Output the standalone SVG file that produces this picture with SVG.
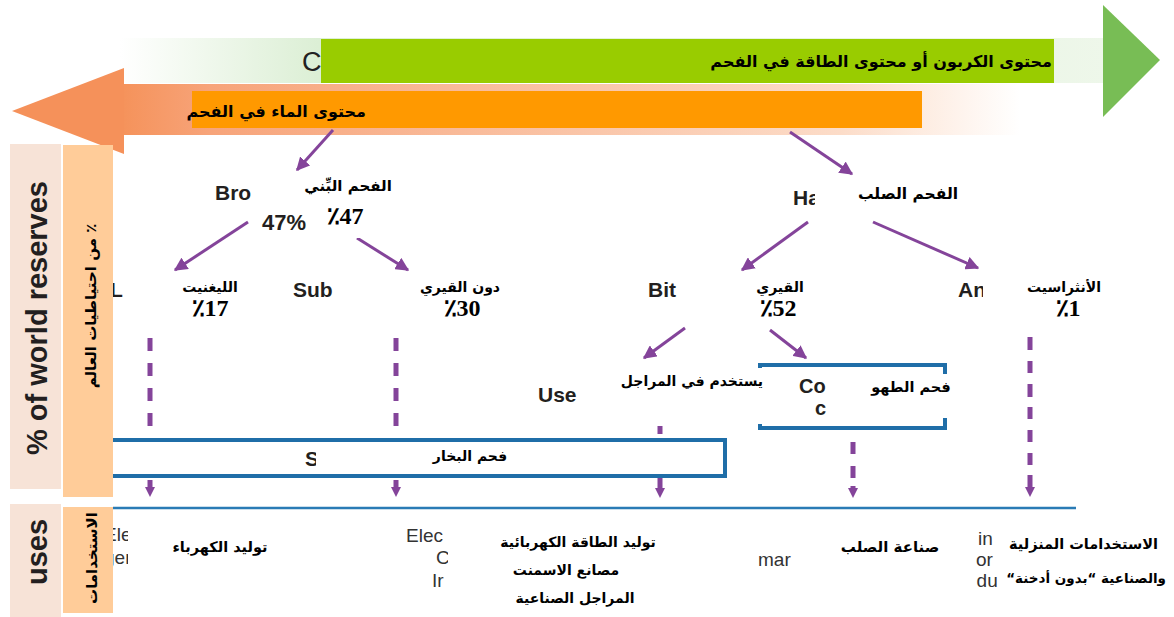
<svg xmlns="http://www.w3.org/2000/svg" width="1174" height="617" viewBox="0 0 1174 617">
<style>
.en{font-family:"Liberation Sans",Arial,sans-serif;font-weight:bold;fill:#231f20}
.enr{font-family:"Liberation Sans",Arial,sans-serif;fill:#333}
.ar{font-family:"DejaVu Sans","Liberation Serif",serif;font-weight:bold;fill:#000}
.num{font-family:"Liberation Serif","DejaVu Serif",serif;font-weight:bold;fill:#000}
.wh{fill:#fff}
.arrow{stroke:#84449a;stroke-width:3;fill:none;marker-end:url(#ah)}
.dash{stroke:#84449a;stroke-width:5;fill:none;marker-end:url(#dh)}
.blue{stroke:#1f6ea8;stroke-width:4;fill:none}
</style>
<defs>
<linearGradient id="gBand" x1="0" x2="1" y1="0" y2="0">
<stop offset="0" stop-color="#ffffff"/>
<stop offset="0.2" stop-color="#dcefd5"/>
<stop offset="1" stop-color="#eef7ea"/>
</linearGradient>
<linearGradient id="oBand" x1="0" x2="1" y1="0" y2="0">
<stop offset="0" stop-color="#f5925a"/>
<stop offset="0.1" stop-color="#f7a47a"/>
<stop offset="0.8" stop-color="#fcdcc8"/>
<stop offset="1" stop-color="#ffffff"/>
</linearGradient>
<marker id="ah" viewBox="0 0 10 10" refX="9" refY="5" markerWidth="4.5" markerHeight="4.5" orient="auto" markerUnits="strokeWidth">
<path d="M0,0 L10,5 L0,10 z" fill="#84449a"/>
</marker>
<marker id="dh" viewBox="0 0 10 10" refX="0" refY="5" markerWidth="10" markerHeight="10" orient="auto" markerUnits="userSpaceOnUse">
<path d="M0,0 L10,5 L0,10 z" fill="#84449a"/>
</marker>
</defs>
<rect width="1174" height="617" fill="#fff"/>

<g id="scale-arrows">
<rect x="120" y="38" width="990" height="45" fill="url(#gBand)"/>
<polygon points="1103,5 1160,60 1103,117" fill="#78bd55"/>
<rect x="120" y="84" width="900" height="51" fill="url(#oBand)"/>
<polygon points="124,68 12,111 124,154" fill="#f5915a"/>
<text x="302" y="71" font-family="Liberation Sans,Arial,sans-serif" font-size="27" fill="#222">C</text>
<rect x="321" y="39" width="733" height="44" fill="#99cc00"/>
<text class="ar" x="1052" y="67" font-size="16" text-anchor="end">محتوى الكربون أو محتوى الطاقة في الفحم</text>
<rect x="192" y="91" width="730" height="37" fill="#ff9900"/>
<text class="ar" x="366" y="117" font-size="16" text-anchor="end">محتوى الماء في الفحم</text>
</g>

<g id="connectors">
<path class="arrow" d="M333,130 L297,170"/>
<path class="arrow" d="M790,132 L852,174"/>
<path class="arrow" d="M248,222 L175,270"/>
<path class="arrow" d="M357,238 L408,270"/>
<path class="arrow" d="M808,222 L742,270"/>
<path class="arrow" d="M873,222 L978,268"/>
<path class="arrow" d="M685,328 L644,358"/>
<path class="arrow" d="M770,330 L806,358"/>
<path class="dash" d="M150,338 V351 M150,363 V376 M150,388 V401 M150,413 V426 M150,480 V487"/>
<path class="dash" d="M396,338 V351 M396,363 V376 M396,388 V401 M396,413 V426 M396,480 V487"/>
<path class="dash" d="M660,426 V434 M660,478 V488"/>
<path class="dash" d="M853,442 V454 M853,466 V478 M853,486 V488"/>
<path class="dash" d="M1030,337 V350 M1030,361 V373 M1030,384 V397 M1030,407 V419 M1030,430 V442 M1030,453 V465 M1030,475 V487"/>
</g>

<g id="node-brown">
<text class="en" x="215" y="200" font-size="21">Bro</text>
<text class="en" x="262" y="230" font-size="22">47%</text>
<rect class="wh" x="258" y="174" width="132" height="28"/>
<rect class="wh" x="309" y="202" width="80" height="36"/>
<text class="ar" x="348" y="191" font-size="15" text-anchor="middle">الفحم البِّني</text>
<text class="num" x="345" y="224" font-size="24" text-anchor="middle">٪47</text>
</g>

<g id="node-hard">
<text class="en" x="793" y="205" font-size="21">Ha</text>
<rect class="wh" x="815" y="178" width="150" height="36"/>
<text class="ar" x="908" y="199" font-size="15.5" text-anchor="middle">الفحم الصلب</text>
</g>

<g id="node-lignite">
<text class="en" x="110" y="297" font-size="21">L</text>
<text class="ar" x="210" y="292" font-size="14" text-anchor="middle">الليغنيت</text>
<text class="num" x="210" y="316" font-size="24" text-anchor="middle">٪17</text>
</g>

<g id="node-sub">
<text class="en" x="293" y="297" font-size="21">Sub</text>
<text class="ar" x="460" y="292" font-size="14" text-anchor="middle">دون القيري</text>
<text class="num" x="462" y="316" font-size="24" text-anchor="middle">٪30</text>
</g>

<g id="node-bit">
<text class="en" x="648" y="297" font-size="21">Bit</text>
<text class="ar" x="780" y="292" font-size="14" text-anchor="middle">القيري</text>
<text class="num" x="778" y="316" font-size="24" text-anchor="middle">٪52</text>
</g>

<g id="node-anth">
<text class="en" x="958" y="297" font-size="21">An</text>
<rect class="wh" x="983" y="274" width="40" height="30"/>
<text class="ar" x="1064" y="292" font-size="14" text-anchor="middle">الأنثراسيت</text>
<text class="num" x="1068" y="316" font-size="24" text-anchor="middle">٪1</text>
</g>

<g id="node-coking">
<rect class="blue" x="760" y="365" width="185" height="63"/>
<text class="en" x="799" y="393" font-size="20">Co</text>
<text class="en" x="815" y="415" font-size="20">c</text>
<rect class="wh" x="831" y="374" width="118" height="44"/>
<text class="ar" x="911" y="392" font-size="14.5" text-anchor="middle">فحم الطهو</text>
</g>

<g id="node-use">
<text class="en" x="538" y="402" font-size="21">Use</text>
<rect class="wh" x="614" y="368" width="183" height="56"/>
<text class="ar" x="692" y="386" font-size="14" text-anchor="middle">يستخدم في المراجل</text>
</g>

<g id="node-steam">
<path class="blue" d="M113,440 H725 V476 H113" fill="#fff"/>
<text class="en" x="305" y="466" font-size="21">S</text>
<rect class="wh" x="316" y="445" width="200" height="28"/>
<text class="ar" x="470" y="461" font-size="14" text-anchor="middle">فحم البخار</text>
</g>

<g id="baseline">
<line x1="113" y1="508" x2="1076" y2="508" stroke="#2a7bb5" stroke-width="2.5"/>
</g>

<g id="use-electricity">
<text class="enr" x="104" y="541" font-size="19">Ele</text>
<text class="enr" x="104" y="564" font-size="19">ger</text>
<rect class="wh" x="128" y="520" width="40" height="60"/>
<text class="ar" x="220" y="552" font-size="14.5" text-anchor="middle">توليد الكهرباء</text>
</g>

<g id="use-power">
<text class="enr" x="406" y="542" font-size="19">Elec</text>
<text class="enr" x="436" y="564" font-size="19">C</text>
<text class="enr" x="432" y="587" font-size="19">Ir</text>
<rect class="wh" x="448" y="520" width="50" height="80"/>
<text class="ar" x="578" y="547" font-size="14" text-anchor="middle">توليد الطاقة الكهربائية</text>
<text class="ar" x="566" y="575" font-size="14" text-anchor="middle">مصانع الاسمنت</text>
<text class="ar" x="575" y="603" font-size="14" text-anchor="middle">المراجل الصناعية</text>
</g>

<g id="use-steel">
<text class="enr" x="758" y="566" font-size="19">mar</text>
<rect class="wh" x="793" y="540" width="40" height="40"/>
<text class="ar" x="890" y="552" font-size="15" text-anchor="middle">صناعة الصلب</text>
</g>

<g id="use-domestic">
<text class="enr" x="978" y="545" font-size="19">in</text>
<text class="enr" x="976" y="566" font-size="19">or</text>
<text class="enr" x="966" y="587" font-size="19">ndu</text>
<rect class="wh" x="940" y="525" width="36" height="70"/>
<text class="ar" x="1158" y="549" font-size="14.5" text-anchor="end">الاستخدامات المنزلية</text>
<text class="ar" x="1166" y="583" font-size="13.5" direction="rtl" text-anchor="start">والصناعية “بدون أدخنة“</text>
</g>

<g id="side-labels">
<rect x="10" y="144" width="51" height="345" fill="#f7e3d7"/>
<rect x="63" y="145" width="50" height="352" fill="#ffcc99"/>
<rect x="10" y="504" width="51" height="113" fill="#f7e3d7"/>
<rect x="63" y="507" width="50" height="106" fill="#ffcc99"/>
<text class="en" font-size="29" text-anchor="middle" transform="translate(47,318) rotate(-90)" fill="#2b2b2b">% of world reserves</text>
<text class="en" font-size="29" text-anchor="middle" transform="translate(47,552) rotate(-90)" fill="#2b2b2b">uses</text>
<text class="ar" font-size="15" font-weight="normal" direction="rtl" text-anchor="middle" transform="translate(96,306) rotate(-90)">٪ من احتياطيات العالم</text>
<text class="ar" font-size="15" direction="rtl" text-anchor="middle" transform="translate(97,558) rotate(-90)">الاستخدامات</text>
</g>
</svg>
